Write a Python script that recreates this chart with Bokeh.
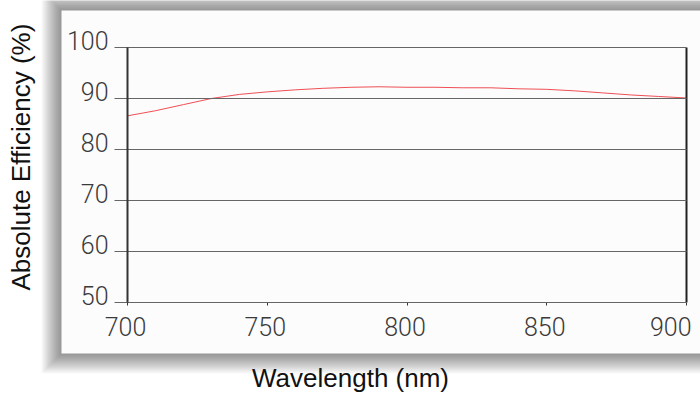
import math
from bokeh.plotting import figure
from bokeh.models import (BoxAnnotation, Label, LabelSet, ColumnDataSource,
                          FixedTicker, Range1d, LinearAxis, CustomLabelingPolicy)
from bokeh.core.properties import value, field
from bokeh.embed import file_html
from bokeh.resources import INLINE

# ---- data ----
wavelength_nm = [700, 710, 720, 730, 740, 750, 760, 770, 780, 790, 800,
                 810, 820, 830, 840, 850, 860, 870, 880, 890, 900]
efficiency_pct = [86.6, 87.6, 88.8, 90.0, 90.8, 91.3, 91.7, 92.0, 92.2, 92.3, 92.2,
                  92.2, 92.1, 92.1, 91.9, 91.8, 91.5, 91.1, 90.7, 90.4, 90.1]
x_ticks = [700, 750, 800, 850, 900]
x_tick_labels = ["700", "750", "800", "850", "900"]
y_ticks = [50, 60, 70, 80, 90, 100]
y_tick_labels = ["50", "60", "70", "80", "90", "100"]
x_title = "Wavelength (nm)"
y_title = "Absolute Efficiency  (%)"

# ---- layout (canvas pixels) ----
W, H = 700, 397
PX_L, PX_R = 127, 686      # x of first / last x tick
PX_T, PX_B = 47, 302       # y of top / bottom y tick
PANEL = "#fcfcfc"
TICK_FONT = "Roboto Light"
TITLE_FONT = "Liberation Sans"

x0, x1 = x_ticks[0], x_ticks[-1]
y0, y1 = y_ticks[0], y_ticks[-1]
SX = (PX_R - PX_L) / (x1 - x0)
SY = (PX_B - PX_T) / (y1 - y0)


def x_of(px):
    return x0 + (px - PX_L) / SX


def y_of(py):
    return y0 + (PX_B - py) / SY


p = figure(width=W, height=H, output_backend="svg", toolbar_location=None,
           x_range=Range1d(x_of(0), x_of(W)), y_range=Range1d(y_of(H), y_of(0)),
           x_axis_type=None, y_axis_type=None,
           min_border_left=0, min_border_right=0, min_border_top=0, min_border_bottom=0)
p.border_fill_color = "white"
p.background_fill_color = "white"
p.outline_line_color = None

hide = CustomLabelingPolicy(code="return new Set()")

# ---- panel shadow + panel ----
for k in range(20, 0, -1):
    p.add_layout(BoxAnnotation(left=x_of(61 - k), right=x_of(W + 60),
                               top=y_of(10 - k), bottom=y_of(353 + k),
                               fill_color="black", fill_alpha=0.022,
                               line_color=None, level="image"))
p.add_layout(BoxAnnotation(left=x_of(61), right=x_of(W + 60),
                           top=y_of(10), bottom=y_of(353),
                           fill_color=PANEL, fill_alpha=1.0,
                           line_color=None, level="image"))


def bare_axis(ax):
    ax.major_label_policy = hide
    ax.major_label_text_font_size = "0px"
    ax.major_label_standoff = 0
    ax.minor_tick_line_color = None
    ax.minor_tick_in = 0
    ax.minor_tick_out = 0
    ax.axis_label = None
    return ax


# horizontal rules (ticks of an axis at x=900 reaching left past x=700)
grid_axis = bare_axis(LinearAxis(fixed_location=x1, bounds=(y0, y1),
                                 ticker=FixedTicker(ticks=y_ticks)))
grid_axis.axis_line_color = "#222222"
grid_axis.axis_line_width = 2
grid_axis.major_tick_in = int(PX_R - PX_L + 13)
grid_axis.major_tick_out = 0
grid_axis.major_tick_line_color = "#666666"
grid_axis.major_tick_line_width = 1
p.add_layout(grid_axis, "right")

# left vertical axis line at x=700
left_axis = bare_axis(LinearAxis(fixed_location=x0, bounds=(y0, y1),
                                 ticker=FixedTicker(ticks=y_ticks)))
left_axis.axis_line_color = "#333333"
left_axis.axis_line_width = 2
left_axis.major_tick_line_color = None
left_axis.major_tick_in = 0
left_axis.major_tick_out = 0
p.add_layout(left_axis, "right")

# x ticks below the bottom rule
x_axis = bare_axis(LinearAxis(fixed_location=y0, bounds=(x0, x1),
                              ticker=FixedTicker(ticks=x_ticks)))
x_axis.axis_line_color = None
x_axis.major_tick_in = 3
x_axis.major_tick_out = 0
x_axis.major_tick_line_color = "#333333"
p.add_layout(x_axis, "above")

# ---- data line ----
p.line(wavelength_nm, efficiency_pct, line_color="#ee4f55", line_width=1)

# ---- tick labels ----
ysrc = ColumnDataSource(dict(x=[x0] * len(y_ticks), y=y_ticks, text=y_tick_labels))
p.add_layout(LabelSet(x="x", y="y", text="text", source=ysrc,
                      text_align="right", text_baseline="middle",
                      x_offset=-19, y_offset=7, text_font=value(TICK_FONT),
                      text_font_size="25px", text_color="#3a3a3a"))

xsrc = ColumnDataSource(dict(
    x=x_ticks,
    y=[y0] * len(x_ticks),
    text=x_tick_labels,
    align=["right" if t == x1 else "center" for t in x_ticks],
    dx=[5 if t == x1 else -2 for t in x_ticks],
))
p.add_layout(LabelSet(x="x", y="y", text="text", source=xsrc,
                      text_align=field("align"), text_baseline="alphabetic",
                      x_offset=field("dx"), y_offset=-33,
                      text_font=value(TICK_FONT),
                      text_font_size="25px", text_color="#3a3a3a"))

# ---- titles ----
p.add_layout(Label(x=x_of(20), y=y_of(153), text=y_title, angle=math.pi / 2,
                   text_align="center", text_baseline="middle",
                   text_font=TITLE_FONT, text_font_size="26px",
                   text_color="#111111"))
p.add_layout(Label(x=x_of(350), y=y_of(377), text=x_title,
                   text_align="center", text_baseline="middle",
                   text_font=TITLE_FONT, text_font_size="26px",
                   text_color="#111111"))

open("out.html", "w").write(file_html(p, INLINE))
